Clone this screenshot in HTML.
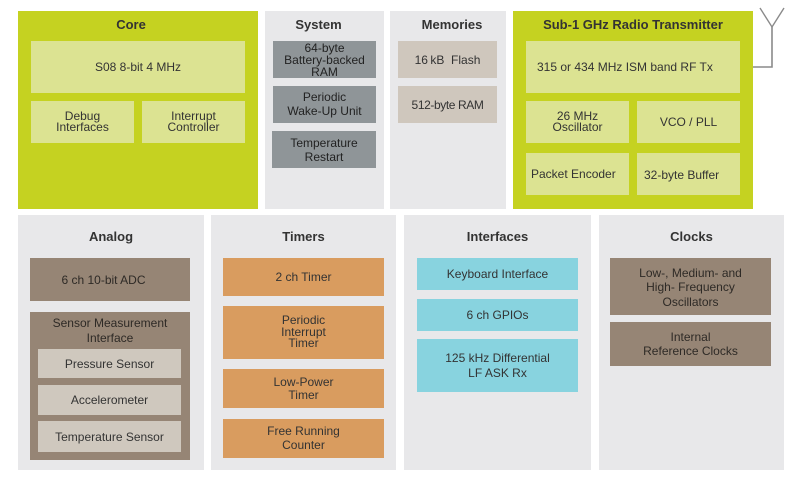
<!DOCTYPE html>
<html><head><meta charset="utf-8"><style>
html,body{margin:0;padding:0;background:#fff;}
body{width:800px;height:480px;position:relative;overflow:hidden;font-family:"Liberation Sans",Arial,sans-serif;color:#333;}
.b{position:absolute;box-sizing:border-box;}
.g{background:#c5d221;}
.bg{background:#e8e8ea;}
.t{position:absolute;font-weight:bold;font-size:13px;color:#333;text-align:center;line-height:16px;white-space:nowrap;}
.i{position:absolute;box-sizing:border-box;display:flex;align-items:center;justify-content:center;text-align:center;font-size:12px;line-height:12px;color:#333;white-space:nowrap;}
.lg{background:#dce392;}
.sy{background:#8f9598;color:#222;}
.me{background:#cfc7bd;}
.br{background:#968575;color:#2e2a26;}
.se{background:#cfc8be;}
.or{background:#d99c5f;}
.cy{background:#88d3df;}
</style></head><body>

<!-- Core -->
<div class="b g" style="left:18px;top:11px;width:240px;height:198px;"></div>
<div class="t" style="left:18px;top:17px;width:226px;">Core</div>
<div class="i lg" style="left:31px;top:41px;width:214px;height:52px;">S08 8-bit 4 MHz</div>
<div class="i lg" style="left:31px;top:101px;width:103px;height:42px;line-height:11px;">Debug<br>Interfaces</div>
<div class="i lg" style="left:142px;top:101px;width:103px;height:42px;line-height:11px;">Interrupt<br>Controller</div>

<!-- System -->
<div class="b bg" style="left:265px;top:11px;width:119px;height:198px;"></div>
<div class="t" style="left:265px;top:17px;width:107px;">System</div>
<div class="i sy" style="left:273px;top:41px;width:103px;height:37px;line-height:12px;">64-byte<br>Battery-backed<br>RAM</div>
<div class="i sy" style="left:273px;top:86px;width:103px;height:37px;line-height:13.3px;">Periodic<br>Wake-Up Unit</div>
<div class="i sy" style="left:272px;top:131px;width:104px;height:37px;line-height:14px;">Temperature<br>Restart</div>

<!-- Memories -->
<div class="b bg" style="left:390px;top:11px;width:116px;height:198px;"></div>
<div class="t" style="left:390px;top:17px;width:124px;">Memories</div>
<div class="i me" style="left:398px;top:41px;width:99px;height:37px;">16&thinsp;kB&nbsp;&nbsp;Flash</div>
<div class="i me" style="left:398px;top:86px;width:99px;height:37px;letter-spacing:-0.4px;">512-byte RAM</div>

<!-- Radio -->
<div class="b g" style="left:513px;top:11px;width:240px;height:198px;"></div>
<div class="t" style="left:513px;top:17px;width:240px;">Sub-1 GHz Radio Transmitter</div>
<div class="i lg" style="left:526px;top:41px;width:214px;height:52px;justify-content:flex-start;padding-left:11px;">315 or 434 MHz ISM band RF Tx</div>
<div class="i lg" style="left:526px;top:101px;width:103px;height:42px;line-height:11px;">26 MHz<br>Oscillator</div>
<div class="i lg" style="left:637px;top:101px;width:103px;height:42px;">VCO / PLL</div>
<div class="i lg" style="left:526px;top:153px;width:103px;height:42px;justify-content:flex-start;padding-left:5px;">Packet Encoder</div>
<div class="i lg" style="left:637px;top:153px;width:103px;height:42px;justify-content:flex-start;padding-left:7px;padding-top:2px;">32-byte Buffer</div>

<!-- Antenna -->
<svg class="b" style="left:0;top:0;" width="800" height="480">
<polyline points="753,67 772,67 772,27" fill="none" stroke="#8a8a8a" stroke-width="1.6"/>
<polyline points="760,8 772,27 784,8" fill="none" stroke="#8a8a8a" stroke-width="1.4"/>
</svg>

<!-- Analog -->
<div class="b bg" style="left:18px;top:215px;width:186px;height:255px;"></div>
<div class="t" style="left:18px;top:229px;width:186px;">Analog</div>
<div class="i br" style="left:30px;top:258px;width:160px;height:43px;padding-right:13px;">6 ch 10-bit ADC</div>
<div class="b br" style="left:30px;top:312px;width:160px;height:148px;"></div>
<div class="i" style="left:30px;top:316px;width:160px;height:29px;line-height:14.4px;color:#2e2a26;">Sensor Measurement<br>Interface</div>
<div class="i se" style="left:38px;top:349px;width:143px;height:29px;">Pressure Sensor</div>
<div class="i se" style="left:38px;top:385px;width:143px;height:30px;">Accelerometer</div>
<div class="i se" style="left:38px;top:421px;width:143px;height:31px;">Temperature Sensor</div>

<!-- Timers -->
<div class="b bg" style="left:211px;top:215px;width:185px;height:255px;"></div>
<div class="t" style="left:211px;top:229px;width:185px;">Timers</div>
<div class="i or" style="left:223px;top:258px;width:161px;height:38px;">2 ch Timer</div>
<div class="i or" style="left:223px;top:306px;width:161px;height:53px;line-height:11.4px;">Periodic<br>Interrupt<br>Timer</div>
<div class="i or" style="left:223px;top:369px;width:161px;height:39px;line-height:12.3px;">Low-Power<br>Timer</div>
<div class="i or" style="left:223px;top:419px;width:161px;height:39px;line-height:13.3px;">Free Running<br>Counter</div>

<!-- Interfaces -->
<div class="b bg" style="left:404px;top:215px;width:187px;height:255px;"></div>
<div class="t" style="left:404px;top:229px;width:187px;">Interfaces</div>
<div class="i cy" style="left:417px;top:258px;width:161px;height:32px;">Keyboard Interface</div>
<div class="i cy" style="left:417px;top:299px;width:161px;height:32px;">6 ch GPIOs</div>
<div class="i cy" style="left:417px;top:339px;width:161px;height:53px;line-height:14.3px;">125 kHz Differential<br>LF ASK Rx</div>

<!-- Clocks -->
<div class="b bg" style="left:599px;top:215px;width:185px;height:255px;"></div>
<div class="t" style="left:599px;top:229px;width:185px;">Clocks</div>
<div class="i br" style="left:610px;top:258px;width:161px;height:57px;line-height:14.5px;padding-top:2px;">Low-, Medium- and<br>High- Frequency<br>Oscillators</div>
<div class="i br" style="left:610px;top:322px;width:161px;height:44px;line-height:14px;">Internal<br>Reference Clocks</div>

</body></html>
